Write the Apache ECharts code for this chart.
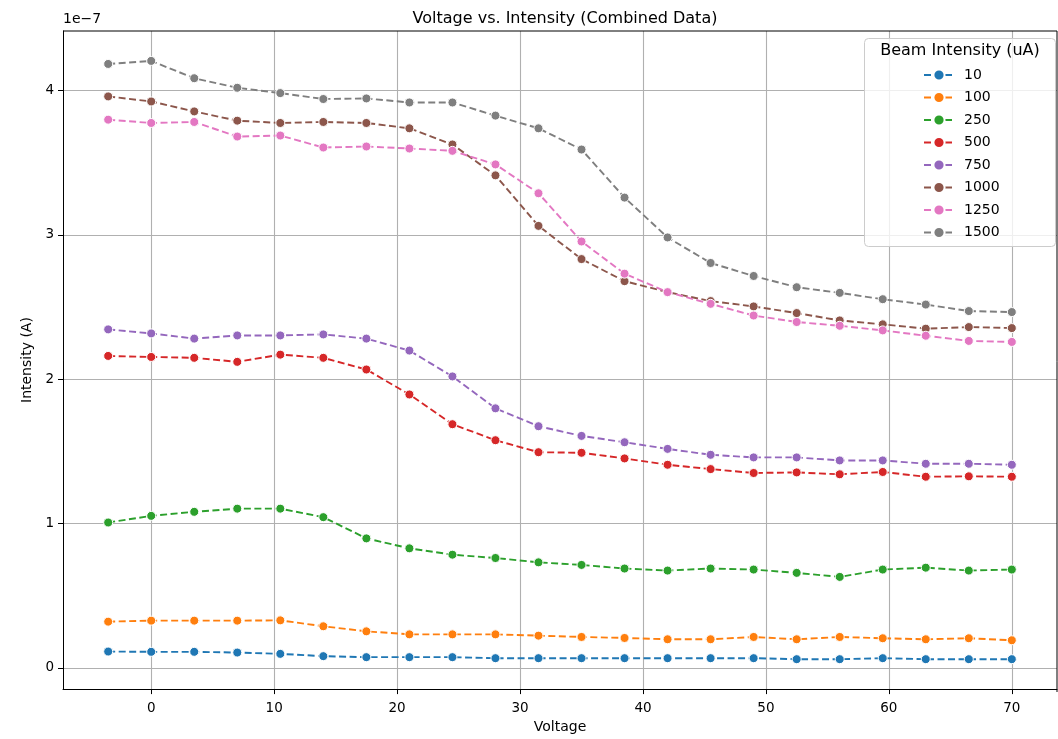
<!DOCTYPE html>
<html>
<head>
<meta charset="utf-8">
<script src="https://cdn.jsdelivr.net/npm/echarts@6/dist/echarts.min.js"></script>
<style>
  html, body { margin: 0; padding: 0; background: #fff; }
  #chart { width: 1058px; height: 739px; }
</style>
</head>
<body>
<div id="chart"></div>
<script>
// Voltage sweep (V)
const voltages = [-3.5, 0, 3.5, 7, 10.5, 14, 17.5, 21, 24.5, 28, 31.5, 35, 38.5, 42, 45.5, 49, 52.5, 56, 59.5, 63, 66.5, 70];

// Measured intensity per beam current, in units of 1e-7 A
const beam10   = [0.113, 0.111, 0.111, 0.106, 0.097, 0.081, 0.074, 0.074, 0.074, 0.067, 0.067, 0.067, 0.067, 0.067, 0.067, 0.067, 0.060, 0.060, 0.067, 0.060, 0.060, 0.060];
const beam100  = [0.320, 0.327, 0.327, 0.327, 0.329, 0.288, 0.253, 0.232, 0.232, 0.232, 0.223, 0.214, 0.207, 0.198, 0.198, 0.214, 0.198, 0.214, 0.205, 0.198, 0.205, 0.191];
const beam250  = [1.007, 1.053, 1.081, 1.103, 1.103, 1.044, 0.897, 0.828, 0.784, 0.761, 0.731, 0.713, 0.688, 0.674, 0.688, 0.681, 0.658, 0.630, 0.681, 0.694, 0.674, 0.681];
const beam500  = [2.161, 2.154, 2.148, 2.120, 2.170, 2.148, 2.067, 1.894, 1.688, 1.577, 1.494, 1.490, 1.451, 1.407, 1.377, 1.350, 1.354, 1.341, 1.357, 1.324, 1.327, 1.324];
const beam750  = [2.345, 2.317, 2.281, 2.303, 2.303, 2.310, 2.281, 2.198, 2.019, 1.798, 1.674, 1.607, 1.563, 1.517, 1.476, 1.458, 1.458, 1.437, 1.437, 1.414, 1.414, 1.407];
const beam1000 = [3.959, 3.924, 3.855, 3.791, 3.775, 3.782, 3.775, 3.738, 3.626, 3.412, 3.062, 2.832, 2.679, 2.603, 2.541, 2.504, 2.458, 2.407, 2.380, 2.350, 2.361, 2.354];
const beam1250 = [3.798, 3.775, 3.782, 3.681, 3.688, 3.605, 3.612, 3.598, 3.582, 3.488, 3.288, 2.954, 2.731, 2.603, 2.522, 2.441, 2.396, 2.370, 2.338, 2.301, 2.265, 2.258];
const beam1500 = [4.184, 4.205, 4.085, 4.019, 3.982, 3.941, 3.945, 3.917, 3.917, 3.826, 3.738, 3.591, 3.258, 2.982, 2.805, 2.715, 2.637, 2.598, 2.554, 2.517, 2.472, 2.465];

const beamLabels = ['10', '100', '250', '500', '750', '1000', '1250', '1500'];
const beamSeries = [beam10, beam100, beam250, beam500, beam750, beam1000, beam1250, beam1500];
const palette = ['#1f77b4', '#ff7f0e', '#2ca02c', '#d62728', '#9467bd', '#8c564b', '#e377c2', '#7f7f7f'];

// Tick labels
const xTicks = [0, 10, 20, 30, 40, 50, 60, 70];
const yTicks = [0, 1, 2, 3, 4];

const FONT = 'DejaVu Sans';

// Axis extents padded 5% around the data range
const xMinData = Math.min(...voltages), xMaxData = Math.max(...voltages);
const xPad = (xMaxData - xMinData) * 0.05;
const allY = beamSeries.flat();
const yMinData = Math.min(...allY), yMaxData = Math.max(...allY);
const yPad = (yMaxData - yMinData) * 0.05;

// Plot frame
const PLOT = { left: 63, top: 31, width: 994, height: 661 };

const series = beamLabels.map((name, k) => ({
  name: name,
  type: 'line',
  data: voltages.map((v, i) => [v, beamSeries[k][i]]),
  symbol: 'circle',
  symbolSize: 9,
  showSymbol: true,
  color: palette[k],
  lineStyle: { width: 1.9, type: [7, 3.5], color: palette[k] },
  itemStyle: { color: palette[k], borderColor: '#ffffff', borderWidth: 1 },
  emphasis: { disabled: true },
  z: 3 + k
}));

const chart = echarts.init(document.getElementById('chart'), null, { renderer: 'canvas' });
chart.setOption({
  animation: false,
  backgroundColor: '#ffffff',
  textStyle: { fontFamily: FONT },
  title: {
    text: 'Voltage vs. Intensity (Combined Data)',
    left: 560, top: 6, textAlign: 'center',
    textStyle: { fontFamily: FONT, fontSize: 16, fontWeight: 'normal', color: '#000' }
  },
  grid: { left: PLOT.left, top: PLOT.top, width: PLOT.width, height: PLOT.height, containLabel: false },
  xAxis: {
    type: 'value',
    min: xMinData - xPad,
    max: xMaxData + xPad,
    name: 'Voltage',
    nameLocation: 'middle',
    nameGap: 30,
    nameTextStyle: { fontFamily: FONT, fontSize: 14, color: '#000' },
    axisLine: { show: true, onZero: false, lineStyle: { color: '#000', width: 1 } },
    axisTick: { show: true, inside: false, length: 5, customValues: xTicks, lineStyle: { color: '#000' } },
    axisLabel: { customValues: xTicks, margin: 12, fontFamily: FONT, fontSize: 13.5, color: '#000' },
    splitLine: { show: true, lineStyle: { color: '#b0b0b0', width: 1.1 } }
  },
  yAxis: {
    type: 'value',
    min: yMinData - yPad,
    max: yMaxData + yPad,
    name: 'Intensity (A)',
    nameLocation: 'middle',
    nameGap: 28,
    nameRotate: 90,
    nameTextStyle: { fontFamily: FONT, fontSize: 14, color: '#000' },
    axisLine: { show: true, onZero: false, lineStyle: { color: '#000', width: 1 } },
    axisTick: { show: true, inside: false, length: 5, customValues: yTicks, lineStyle: { color: '#000' } },
    axisLabel: { customValues: yTicks, margin: 9, fontFamily: FONT, fontSize: 13.5, color: '#000' },
    splitLine: { show: true, lineStyle: { color: '#b0b0b0', width: 1.1 } }
  },
  legend: {
    orient: 'vertical',
    align: 'left',
    left: 918, top: 63,
    itemWidth: 30, itemHeight: 14, itemGap: 8.5,
    data: beamLabels,
    formatter: name => '{t|' + name + '}',
    textStyle: {
      fontFamily: FONT, fontSize: 14, color: '#000',
      rich: { t: { fontFamily: FONT, fontSize: 14, color: '#000', padding: [0, 0, 0, 5] } }
    },
    z: 20
  },
  graphic: [
    // top and right frame lines
    { type: 'line', shape: { x1: PLOT.left, y1: PLOT.top, x2: PLOT.left + PLOT.width, y2: PLOT.top },
      style: { stroke: '#000', lineWidth: 1 }, z: 10 },
    { type: 'line', shape: { x1: PLOT.left + PLOT.width, y1: PLOT.top, x2: PLOT.left + PLOT.width, y2: PLOT.top + PLOT.height },
      style: { stroke: '#000', lineWidth: 1 }, z: 10 },
    // axis offset text
    { type: 'text', left: 63, top: 12, style: { text: '1e\u22127', font: '14px "DejaVu Sans"', fill: '#000' }, z: 10 },
    // legend frame and title
    { type: 'rect', shape: { x: 864.5, y: 38.5, width: 191, height: 208, r: 4 },
      style: { fill: 'rgba(255,255,255,0.8)', stroke: '#cccccc', lineWidth: 1 }, z: 15 },
    { type: 'text', x: 960, y: 51, style: { text: 'Beam Intensity (uA)', font: '16px "DejaVu Sans"', fill: '#000', textAlign: 'center', textVerticalAlign: 'middle' }, z: 16 }
  ],
  series: series
});
</script>
</body>
</html>
